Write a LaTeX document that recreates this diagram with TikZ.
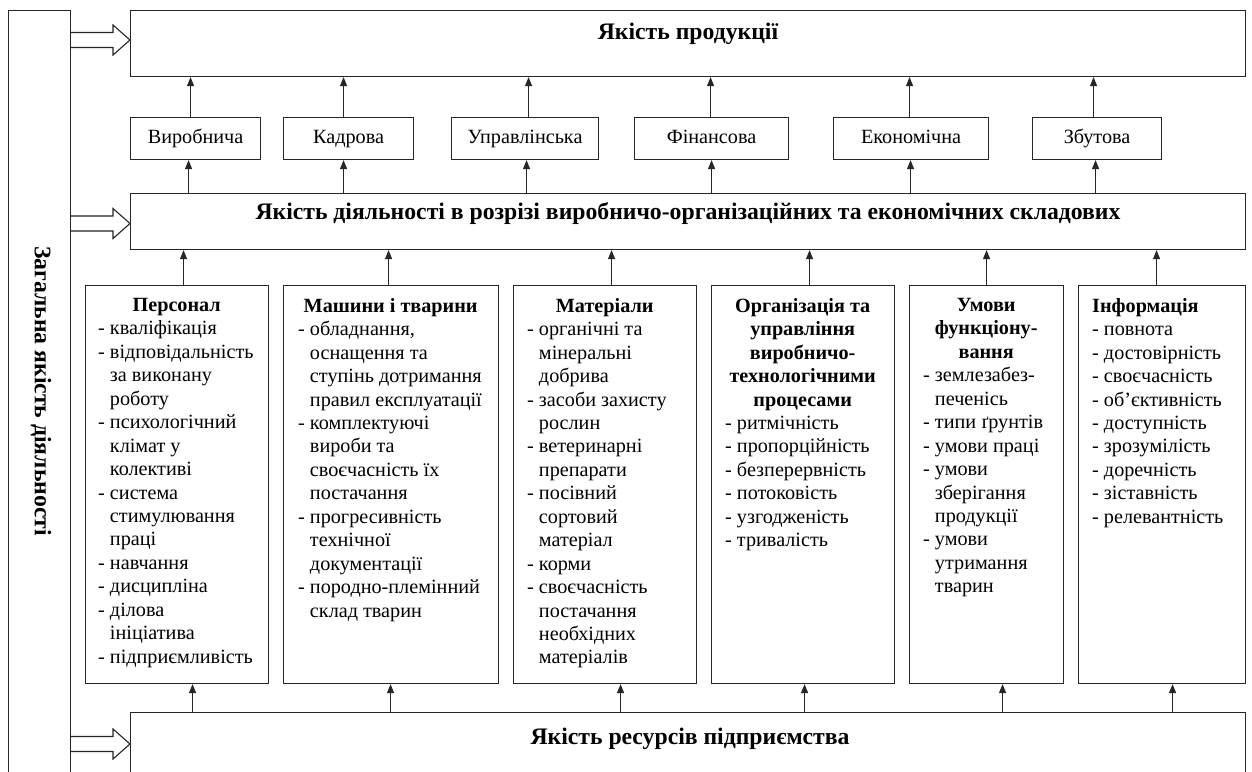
\documentclass[tikz,border=0pt]{standalone}
\usepackage{fontspec}
\setmainfont{Liberation Serif}
\usetikzlibrary{arrows.meta,calc}
\newcommand\hng{\phantom{- }}
\newcommand\lf{\fontsize{20.2}{23.45}\selectfont}
\newcommand\hollowarr[2]{%
  \draw[hollow] ($(#1)+(0,-7.5)$) -- ($(#2)+(-17,-7.5)$) -- ($(#2)+(-17,-15)$) -- (#2)
    -- ($(#2)+(-17,15)$) -- ($(#2)+(-17,7.5)$) -- ($(#1)+(0,7.5)$);}
\begin{document}
\begin{tikzpicture}[x=1pt,y=-1pt,
  box/.style={draw=black!85, line width=1.1pt, inner sep=0pt, anchor=north west},
  lbl/.style={font=\lf, text height=13pt, text depth=4pt},
  head/.style={font=\bfseries\fontsize{23.7}{28}\selectfont},
  conn/.style={draw=black!85, line width=1.1pt, -{Triangle[width=7pt,length=9pt]}},
  hollow/.style={draw=black!85, line width=1.1pt, line join=miter},
  list/.style={inner sep=0pt, anchor=north west}]
\useasboundingbox (0,0) rectangle (1252,771);
\clip (0,0) rectangle (1252,771);
\fill[white] (0,0) rectangle (1252,771);

% main boxes
\node[box, minimum width=62pt, minimum height=800pt] (total) at (8,10) {};
\node[font=\bfseries\fontsize{23.7}{28}\selectfont, rotate=-90] (totaltxt) at (41,391) {Загальна якість діяльності};
\node[box, minimum width=1115pt, minimum height=66pt] (pq) at (130,10) {};
\node[head] (pqtxt) at (688,34) {Якість продукції};
\node[box, minimum width=1115pt, minimum height=56pt] (act) at (130,193) {};
\node[head] (acttxt) at (688,214) {Якість діяльності в розрізі виробничо-організаційних та економічних складових};
\node[box, minimum width=1115pt, minimum height=90pt] (res) at (130,712) {};
\node[head] (restxt) at (690,739) {Якість ресурсів підприємства};

% small boxes
\node[box, lbl, minimum width=130pt, minimum height=42pt] (v1) at (130,117) {Виробнича};
\node[box, lbl, minimum width=130pt, minimum height=42pt] (v2) at (283,117) {Кадрова};
\node[box, lbl, minimum width=147pt, minimum height=42pt] (v3) at (451,117) {Управлінська};
\node[box, lbl, minimum width=154pt, minimum height=42pt] (v4) at (634,117) {Фінансова};
\node[box, lbl, minimum width=155pt, minimum height=42pt] (v5) at (833,117) {Економічна};
\node[box, lbl, minimum width=129pt, minimum height=42pt] (v6) at (1032,117) {Збутова};

% bottom boxes
\node[box, minimum width=183pt, minimum height=398pt] (b1) at (85,285) {};
\node[box, minimum width=215pt, minimum height=398pt] (b2) at (283,285) {};
\node[box, minimum width=183pt, minimum height=398pt] (b3) at (513,285) {};
\node[box, minimum width=183pt, minimum height=398pt] (b4) at (711,285) {};
\node[box, minimum width=154pt, minimum height=398pt] (b5) at (909,285) {};
\node[box, minimum width=167pt, minimum height=398pt] (b6) at (1078,285) {};

\node[list] (t1) at (98,298) {\begin{minipage}{165pt}\lf\raggedright
\makebox[157pt]{\bfseries Персонал}\\
- кваліфікація\\
- відповідальність\\
\hng за виконану\\
\hng роботу\\
- психологічний\\
\hng клімат у\\
\hng колективі\\
- система\\
\hng стимулювання\\
\hng праці\\
- навчання\\
- дисципліна\\
- ділова\\
\hng ініціатива\\
- підприємливість\end{minipage}};

\node[list] (t2) at (298,298) {\begin{minipage}{200pt}\lf\raggedright
\makebox[185pt]{\bfseries Машини і тварини}\\
- обладнання,\\
\hng оснащення та\\
\hng ступінь дотримання\\
\hng правил експлуатації\\
- комплектуючі\\
\hng вироби та\\
\hng своєчасність їх\\
\hng постачання\\
- прогресивність\\
\hng технічної\\
\hng документації\\
- породно-племінний\\
\hng склад тварин\end{minipage}};

\node[list] (t3) at (527,298) {\begin{minipage}{170pt}\lf\raggedright
\makebox[155pt]{\bfseries Матеріали}\\
- органічні та\\
\hng мінеральні\\
\hng добрива\\
- засоби захисту\\
\hng рослин\\
- ветеринарні\\
\hng препарати\\
- посівний\\
\hng сортовий\\
\hng матеріал\\
- корми\\
- своєчасність\\
\hng постачання\\
\hng необхідних\\
\hng матеріалів\end{minipage}};

\node[list] (t4) at (725,298) {\begin{minipage}{170pt}\lf\raggedright
\makebox[155pt]{\bfseries Організація та}\\
\makebox[155pt]{\bfseries управління}\\
\makebox[155pt]{\bfseries виробничо-}\\
\makebox[155pt]{\bfseries технологічними}\\
\makebox[155pt]{\bfseries процесами}\\
- ритмічність\\
- пропорційність\\
- безперервність\\
- потоковість\\
- узгодженість\\
- тривалість\end{minipage}};

\node[list] (t5) at (923,298) {\begin{minipage}{140pt}\lf\raggedright
\makebox[126pt]{\bfseries Умови}\\
\makebox[126pt]{\bfseries функціону-}\\
\makebox[126pt]{\bfseries вання}\\
- землезабез-\\
\hng печенісь\\
- типи ґрунтів\\
- умови праці\\
- умови\\
\hng зберігання\\
\hng продукції\\
- умови\\
\hng утримання\\
\hng тварин\end{minipage}};

\node[list] (t6) at (1092,298) {\begin{minipage}{150pt}\lf\raggedright
{\bfseries Інформація}\\
- повнота\\
- достовірність\\
- своєчасність\\
- об’єктивність\\
- доступність\\
- зрозумілість\\
- доречність\\
- зіставність\\
- релевантність\end{minipage}};

% hollow arrows
\coordinate (h1s) at ($(total.north east)+(0,30)$);
\coordinate (h1e) at (pq.west |- h1s);
\coordinate (h2s) at ($(total.north east)+(0,213.5)$);
\coordinate (h2e) at (act.west |- h2s);
\coordinate (h3s) at ($(total.north east)+(0,734)$);
\coordinate (h3e) at (res.west |- h3s);
\hollowarr{h1s}{h1e}
\hollowarr{h2s}{h2e}
\hollowarr{h3s}{h3e}

% small boxes -> top
\foreach \n/\a/\b in {v1/-5/-7, v2/-5/-5, v3/3.5/1.5, v4/-1/0, v5/-1.5/-0.5, v6/-3.5/-1.5}{
  \draw[conn] ([xshift=\a pt]\n.north) -- ([xshift=\a pt]\n.north |- pq.south);
  \draw[conn] ([xshift=\b pt]\n.south |- act.north) -- ([xshift=\b pt]\n.south);
}
% bottom boxes
\foreach \n/\a/\b in {b1/6.5/15.5, b2/-2.5/-0.5, b3/6.5/15.5, b4/6.5/1.5, b5/0/16, b6/-5.5/10.5}{
  \draw[conn] ([xshift=\a pt]\n.north) -- ([xshift=\a pt]\n.north |- act.south);
  \draw[conn] ([xshift=\b pt]\n.south |- res.north) -- ([xshift=\b pt]\n.south);
}
\end{tikzpicture}
\end{document}
